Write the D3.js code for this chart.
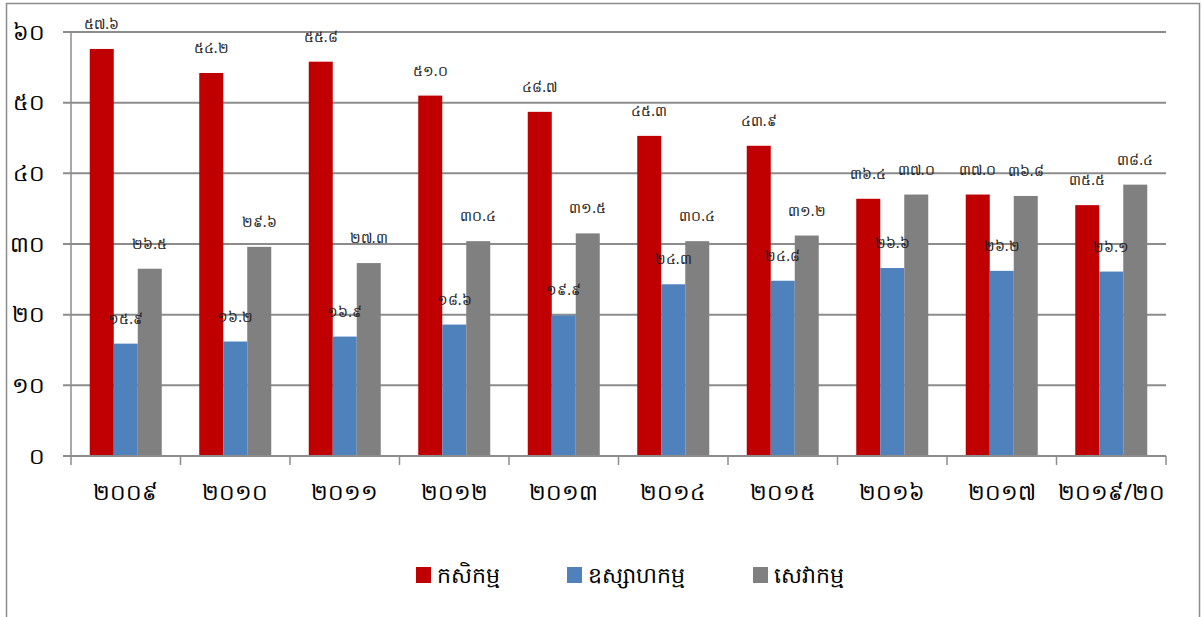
<!DOCTYPE html>
<html><head><meta charset="utf-8">
<script src="https://cdn.jsdelivr.net/npm/d3@7"></script>
<style>body{margin:0;background:#fff;overflow:hidden}svg{display:block}</style>
</head><body>
<script>
const categories = ["២០០៩","២០១០","២០១១","២០១២","២០១៣","២០១៤","២០១៥","២០១៦","២០១៧","២០១៩/២០"];
const seriesNames = ["កសិកម្ម","ឧស្សាហកម្ម","សេវាកម្ម"];
const agriculture = [57.6,54.2,55.8,51.0,48.7,45.3,43.9,36.4,37.0,35.5];
const industry = [15.9,16.2,16.9,18.6,19.9,24.3,24.8,26.6,26.2,26.1];
const services = [26.5,29.6,27.3,30.4,31.5,30.4,31.2,37.0,36.8,38.4];
const yTicks = [0,10,20,30,40,50,60];
const colors = ["#c00000","#4f81bd","#808080"];

(function(){
const W=1202,H=617;
const khmer = s => String(s).replace(/[0-9]/g,d=>String.fromCharCode(0x17E0+ +d));
const font = "'Noto Sans', 'DejaVu Sans', sans-serif";
const svg=d3.select("body").append("svg").attr("width",W).attr("height",H);
svg.append("rect").attr("x",6.5).attr("y",3.5).attr("width",1193).attr("height",640)
  .attr("fill","#fff").attr("stroke","#8c8c8c").attr("stroke-width",1.5);

const pL=71,pR=1166,pT=32,pB=456;
const x=d3.scaleBand().domain(categories).range([pL,pR]);
const y=d3.scaleLinear().domain([0,60]).range([pB,pT]);
const xs=d3.scaleBand().domain(seriesNames).range([0,72]);
const series=[agriculture,industry,services];

svg.append("g").selectAll("line").data(yTicks).join("line")
  .attr("x1",63).attr("x2",pR).attr("y1",d=>y(d)).attr("y2",d=>y(d))
  .attr("stroke","#8c8c8c").attr("stroke-width",2);
svg.append("line").attr("x1",pL).attr("x2",pL).attr("y1",pT).attr("y2",pB)
  .attr("stroke","#8c8c8c").attr("stroke-width",1.5);
svg.append("g").selectAll("text").data(yTicks).join("text")
  .attr("x",45).attr("y",d=>y(d)).attr("dy","0.35em").attr("text-anchor","end")
  .attr("font-family",font).attr("font-size",22).attr("fill","#000").text(d=>khmer(d));

categories.forEach((c,i)=>{
  const gx=x(c)+(x.bandwidth()-72)/2;
  series.forEach((s,j)=>{
    svg.append("rect").attr("x",gx+xs(seriesNames[j])).attr("y",y(s[i]))
      .attr("width",xs.bandwidth()).attr("height",pB-y(s[i])).attr("fill",colors[j]);
  });
});
categories.forEach((c,i)=>{
  const gx=x(c)+(x.bandwidth()-72)/2;
  series.forEach((s,j)=>{
    svg.append("text").attr("x",gx+xs(seriesNames[j])+xs.bandwidth()/2).attr("y",y(s[i])-20)
      .attr("text-anchor","middle").attr("font-family",font).attr("font-size",14).attr("fill","#222")
      .text(khmer(s[i].toFixed(1)));
  });
});

svg.append("line").attr("x1",pL).attr("x2",pR).attr("y1",pB).attr("y2",pB)
  .attr("stroke","#8c8c8c").attr("stroke-width",2);
const bounds=categories.map(c=>x(c)).concat([pR]);
svg.append("g").selectAll("line").data(bounds).join("line")
  .attr("x1",d=>d).attr("x2",d=>d).attr("y1",pB).attr("y2",pB+9)
  .attr("stroke","#8c8c8c").attr("stroke-width",1.5);
svg.append("g").selectAll("text").data(categories).join("text")
  .attr("x",d=>x(d)+x.bandwidth()/2).attr("y",492).attr("dy","0.35em").attr("text-anchor","middle")
  .attr("font-family",font).attr("font-size",22).attr("fill","#000").text(d=>d);

const legX=[416,567,753];
seriesNames.forEach((n,j)=>{
  svg.append("rect").attr("x",legX[j]).attr("y",567).attr("width",15).attr("height",16).attr("fill",colors[j]);
  svg.append("text").attr("x",legX[j]+21).attr("y",575).attr("dy","0.35em")
    .attr("font-family",font).attr("font-size",22).attr("fill","#000").text(n);
});
})();
</script>
</body></html>
